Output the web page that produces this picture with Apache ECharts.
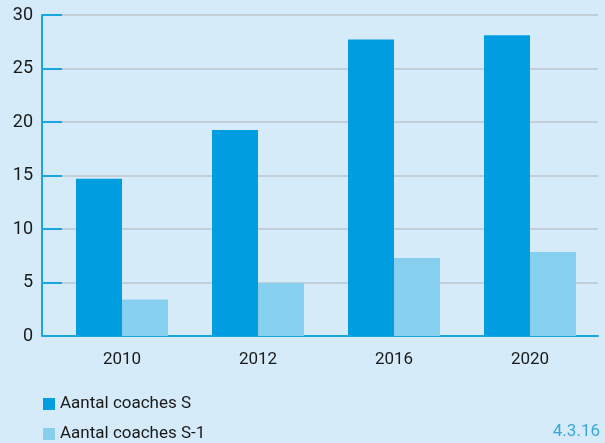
<!DOCTYPE html>
<html>
<head>
<meta charset="utf-8">
<script src="https://cdn.jsdelivr.net/npm/echarts@6/dist/echarts.min.js"></script>
<style>
  html, body { margin: 0; padding: 0; background: #d5ebf9; }
  #chart { width: 605px; height: 443px; }
</style>
</head>
<body>
<div id="chart"></div>
<script>
const years = ['2010', '2012', '2016', '2020']
const coachesS = [14.7, 19.25, 27.7, 28.1]
const coachesS1 = [3.4, 4.95, 7.3, 7.85]
const yTicks = { min: 0, max: 30, interval: 5 }

const blue = '#1aa6e2'
const chart = echarts.init(document.getElementById('chart'))

chart.setOption({
  backgroundColor: '#d5ebf9',
  textStyle: { fontFamily: 'Roboto' },
  grid: { left: 54, right: 7, top: 15, bottom: 107 },
  legend: {
    orient: 'vertical',
    left: 43,
    top: 394,
    height: 60,
    padding: 0,
    itemWidth: 12,
    itemHeight: 12,
    itemGap: 10,
    icon: 'rect',
    textStyle: { fontSize: 17, color: '#1a1a1a', fontFamily: 'Roboto', lineHeight: 20 },
    data: ['Aantal coaches S', 'Aantal coaches S-1']
  },
  graphic: [
    {
      type: 'text',
      right: 5,
      top: 423,
      style: { text: '4.3.16', fill: '#3aa6dc', fontSize: 17, fontFamily: 'Roboto' }
    },
    {
      // x axis line runs under the shifted y axis too
      type: 'line',
      shape: { x1: 42, y1: 336, x2: 54, y2: 336 },
      style: { stroke: blue, lineWidth: 2 }
    }
  ],
  xAxis: {
    type: 'category',
    data: years,
    axisLine: { lineStyle: { color: blue, width: 2 } },
    axisTick: { inside: true, length: 8, lineStyle: { color: blue, width: 2 } },
    axisLabel: { fontSize: 17, color: '#1a1a1a', margin: 15 }
  },
  yAxis: {
    type: 'value',
    min: yTicks.min,
    max: yTicks.max,
    interval: yTicks.interval,
    offset: 12,
    axisLine: { show: true, lineStyle: { color: blue, width: 2 } },
    axisTick: { show: true, inside: true, length: 20, lineStyle: { color: blue, width: 2 } },
    axisLabel: { fontSize: 18, color: '#1a1a1a', margin: 9 },
    splitLine: { lineStyle: { color: '#c4ced6', width: 2 } }
  },
  series: [
    {
      name: 'Aantal coaches S',
      type: 'bar',
      data: coachesS,
      barWidth: 46,
      barGap: '0%',
      itemStyle: { color: '#009ee0' }
    },
    {
      name: 'Aantal coaches S-1',
      type: 'bar',
      data: coachesS1,
      barWidth: 46,
      itemStyle: { color: '#87cfef' }
    }
  ]
})
</script>
</body>
</html>
